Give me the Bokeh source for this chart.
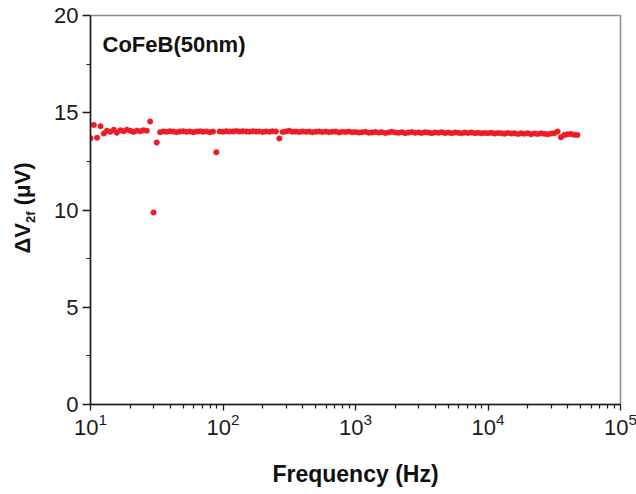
from bokeh.plotting import figure
from bokeh.layouts import row
from bokeh.models import Range1d, FixedTicker, Label, ColumnDataSource, Div
from bokeh.embed import file_html
from bokeh.resources import INLINE

# ---- data ----
freq_hz = [
    10.0, 10.6, 11.2, 11.9, 12.6, 13.3, 14.1, 15.0, 15.8, 16.8,
    17.8, 18.8, 20.0, 21.1, 22.4, 23.7, 25.1, 26.6, 28.2, 29.9,
    31.6, 33.5, 35.5, 37.6, 39.8, 42.2, 44.7, 47.3, 50.1, 53.1,
    56.2, 59.6, 63.1, 66.8, 70.8, 75.0, 79.4, 84.1, 89.1, 94.4,
    100, 106, 112, 119, 126, 133, 141, 150, 158, 168,
    178, 188, 200, 211, 224, 237, 251, 266, 282, 299,
    316, 335, 355, 376, 398, 422, 447, 473, 501, 531,
    562, 596, 631, 668, 708, 750, 794, 841, 891, 944,
    1000, 1060, 1120, 1190, 1260, 1330, 1410, 1500, 1580, 1680,
    1780, 1880, 2000, 2110, 2240, 2370, 2510, 2660, 2820, 2990,
    3160, 3350, 3550, 3760, 3980, 4220, 4470, 4730, 5010, 5310,
    5620, 5960, 6310, 6680, 7080, 7500, 7940, 8410, 8910, 9440,
    10000, 10600, 11200, 11900, 12600, 13300, 14100, 15000, 15800, 16800,
    17800, 18800, 20000, 21100, 22400, 23700, 25100, 26600, 28200, 29900,
    31600, 33500, 35500, 37600, 39800, 42200, 44700, 47300,
]
dv2f_uv = [
    13.69, 14.37, 13.72, 14.31, 13.93, 14.08, 14.02, 14.12, 13.97, 14.10,
    14.05, 14.13, 14.07, 14.01, 14.08, 14.05, 14.10, 14.08, 14.55, 9.87,
    13.47, 14.00, 14.04, 14.02, 14.05, 14.03, 14.00, 14.04, 14.05, 14.02,
    14.04, 14.00, 14.03, 14.05, 14.02, 14.04, 14.00, 14.03, 12.97, 14.04,
    14.02, 14.05, 14.03, 14.04, 14.06, 14.03, 14.05, 14.04, 14.02, 14.05,
    14.03, 14.04, 14.01, 14.04, 14.02, 14.05, 14.03, 13.68, 14.01, 14.04,
    14.07, 14.02, 14.03, 14.01, 14.04, 14.02, 14.03, 14.00, 14.02, 14.04,
    14.01, 14.03, 14.00, 14.02, 14.03, 13.99, 14.02, 14.01, 14.03, 14.00,
    14.01, 13.98, 14.00, 14.02, 13.97, 13.99, 14.01, 13.98, 14.00, 13.96,
    13.99, 14.02, 13.98, 13.97, 14.00, 13.95, 13.98, 14.01, 13.97, 13.99,
    13.96, 14.00, 13.98, 13.95, 13.99, 13.97, 14.00, 13.96, 13.98, 13.95,
    13.99, 13.97, 13.94, 13.98, 13.96, 13.99, 13.95, 13.97, 13.94, 13.96,
    13.95, 13.97, 13.93, 13.96, 13.94, 13.92, 13.96, 13.93, 13.95, 13.91,
    13.94, 13.92, 13.95, 13.90, 13.93, 13.91, 13.94, 13.92, 13.89, 13.93,
    13.95, 14.03, 13.74, 13.85, 13.89, 13.91, 13.87, 13.85,
]
x_major_ticks = [10, 100, 1000, 10000, 100000]
x_minor_ticks = [m * d for d in (10, 100, 1000, 10000) for m in range(2, 10)]
y_major_ticks = [0, 5, 10, 15, 20]
y_minor_ticks = [2.5, 7.5, 12.5, 17.5]
sample_label = "CoFeB(50nm)"
x_title = "Frequency (Hz)"
y_title_main = "ΔV"
y_title_sub = "2f"
y_title_unit = " (μV)"

FONT = "Liberation Sans"
AXIS_COLOR = "#1a1a1a"
TEXT_COLOR = "#111111"
YLAB_W = 40

p = figure(x_axis_type="log", x_range=Range1d(10, 1e5), y_range=Range1d(0, 20),
           frame_width=530, frame_height=389,
           min_border_left=40, min_border_right=17,
           min_border_top=15, min_border_bottom=90,
           output_backend="svg", toolbar_location=None)
p.background_fill_color = "white"
p.border_fill_color = "white"
p.outline_line_color = "#8a8a8a"
p.outline_line_width = 1.5
p.xgrid.visible = False
p.ygrid.visible = False

p.xaxis.ticker = FixedTicker(ticks=x_major_ticks, minor_ticks=x_minor_ticks)
p.yaxis.ticker = FixedTicker(ticks=y_major_ticks, minor_ticks=y_minor_ticks)

for ax in (p.xaxis, p.yaxis):
    ax.axis_line_color = AXIS_COLOR
    ax.axis_line_width = 1.5
    ax.major_tick_line_color = AXIS_COLOR
    ax.minor_tick_line_color = AXIS_COLOR
    ax.major_tick_line_width = 1.3
    ax.minor_tick_line_width = 1.2
    ax.major_tick_in = 0
    ax.minor_tick_in = 0
    ax.major_label_text_font = FONT
    ax.major_label_text_font_size = "22px"
    ax.major_label_text_color = AXIS_COLOR

p.xaxis.major_tick_out = 6
p.xaxis.minor_tick_out = 4
p.yaxis.major_tick_out = 8
p.yaxis.minor_tick_out = 4
p.xaxis.major_label_standoff = 2
p.yaxis.major_label_standoff = 4

p.xaxis.axis_label = x_title
p.xaxis.axis_label_text_font = FONT
p.xaxis.axis_label_text_font_style = "bold"
p.xaxis.axis_label_text_font_size = "23px"
p.xaxis.axis_label_text_color = TEXT_COLOR
p.xaxis.axis_label_standoff = 23

src = ColumnDataSource(data=dict(f=freq_hz, v=dv2f_uv))
p.scatter("f", "v", source=src, size=5.5, marker="circle",
          fill_color="#ed1c24", line_color="#ed1c24", line_width=0.5)

p.add_layout(Label(x=12, y=360, x_units="screen", y_units="screen", text=sample_label,
                   text_font=FONT, text_font_style="bold", text_font_size="22px",
                   text_color=TEXT_COLOR, text_align="left", text_baseline="middle"))

ylab_html = (
    f'<div style="position:relative;width:{YLAB_W}px;height:494px;">'
    '<div style="position:absolute;left:18px;top:203px;'
    'transform:translate(-50%,-50%) rotate(-90deg);white-space:nowrap;'
    f"font-family:'{FONT}';font-weight:bold;font-size:22px;line-height:1;color:{TEXT_COLOR};\">"
    f'{y_title_main}<span style="font-size:13px;position:relative;top:5px;">{y_title_sub}</span>{y_title_unit}'
    '</div></div>'
)
ydiv = Div(text=ylab_html, width=YLAB_W, height=494)

layout = row(ydiv, p, spacing=0)
open("out.html", "w").write(file_html(layout, INLINE))
